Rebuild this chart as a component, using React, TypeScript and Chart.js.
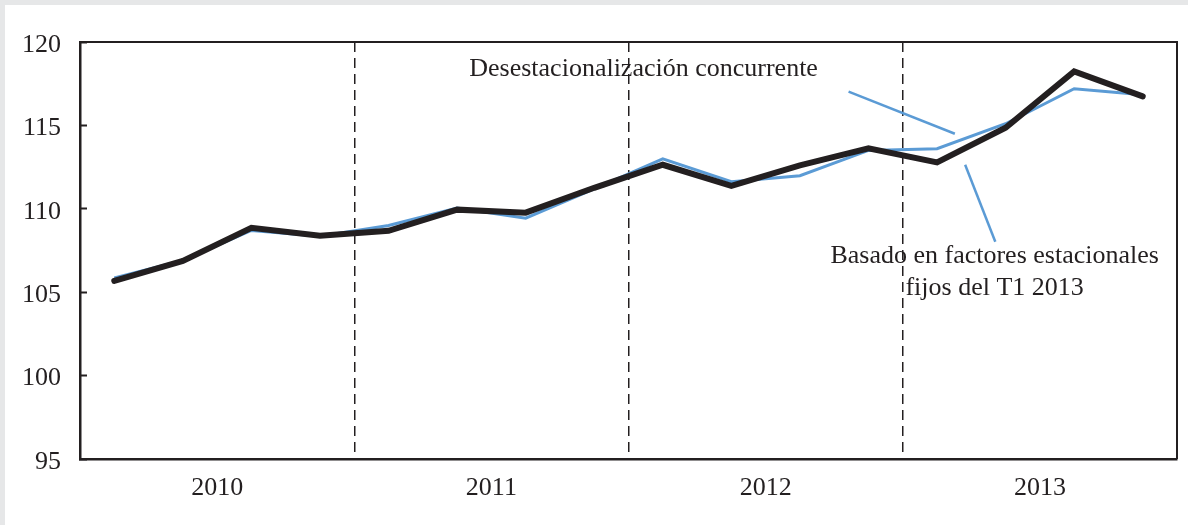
import React, { useEffect, useRef } from "react";
import { Chart, registerables } from "chart.js";

Chart.register(...registerables);

// ---- data ----
const quarters = [
  "T1 2010", "T2 2010", "T3 2010", "T4 2010",
  "T1 2011", "T2 2011", "T3 2011", "T4 2011",
  "T1 2012", "T2 2012", "T3 2012", "T4 2012",
  "T1 2013", "T2 2013", "T3 2013", "T4 2013",
];
const years = ["2010", "2011", "2012", "2013"];
const fixedFactors = [105.68, 106.88, 108.86, 108.38, 108.68, 109.95, 109.77, 111.26, 112.64, 111.38, 112.6, 113.63, 112.78, 114.86, 118.24, 116.74];
const concurrent = [105.85, 106.9, 108.7, 108.35, 109.0, 110.05, 109.44, 111.2, 113.0, 111.62, 111.98, 113.5, 113.6, 115.1, 117.2, 116.84];
const yTicks = [95, 100, 105, 110, 115, 120];

const concurrentLabel = "Desestacionalización concurrente";
const fixedLabel = ["Basado en factores estacionales", "fijos del T1 2013"];

// annotation placement, in data units (x: quarter index scale, y: value)
const annotationLines = [
  [[11.21, 117.02], [12.76, 114.5]],
  [[12.91, 112.64], [13.35, 108.02]],
];
const annotationTexts = [
  { text: [concurrentLabel], x: 8.22, y: [117.98] },
  { text: fixedLabel, x: 13.34, y: [106.76, 104.84] },
];

const INK = "#231f20";
const BLUE = "#5b9bd5";
const FONT = "'Liberation Serif', 'Times New Roman', serif";

export default function App() {
  const ref = useRef<HTMLCanvasElement>(null);

  useEffect(() => {
    const canvas = ref.current!;
    const bgPlugin = {
      id: "bg",
      beforeDraw(chart: any) {
        const { ctx, width, height } = chart;
        ctx.save();
        ctx.fillStyle = "#e6e7e8";
        ctx.fillRect(0, 0, width, height);
        ctx.fillStyle = "#ffffff";
        ctx.fillRect(5, 5, width - 5, height - 5);
        ctx.restore();
      },
    };
    const framePlugin = {
      id: "frame",
      afterDatasetsDraw(chart: any) {
        const { ctx, chartArea } = chart;
        const xs = chart.scales.x;
        const ys = chart.scales.y;
        ctx.save();
        ctx.strokeStyle = INK;
        ctx.lineWidth = 2;
        ctx.beginPath();
        ctx.moveTo(chartArea.left, chartArea.top);
        ctx.lineTo(chartArea.right, chartArea.top);
        ctx.lineTo(chartArea.right, chartArea.bottom);
        ctx.stroke();
        // annotation leader lines
        ctx.strokeStyle = BLUE;
        ctx.lineWidth = 2.5;
        for (const seg of annotationLines) {
          ctx.beginPath();
          ctx.moveTo(xs.getPixelForValue(seg[0][0]), ys.getPixelForValue(seg[0][1]));
          ctx.lineTo(xs.getPixelForValue(seg[1][0]), ys.getPixelForValue(seg[1][1]));
          ctx.stroke();
        }
        ctx.fillStyle = INK;
        ctx.font = `26px ${FONT}`;
        ctx.textAlign = "center";
        ctx.textBaseline = "alphabetic";
        for (const t of annotationTexts) {
          t.text.forEach((s, i) => {
            ctx.fillText(s, xs.getPixelForValue(t.x), ys.getPixelForValue(t.y[i]));
          });
        }
        ctx.restore();
      },
    };

    const chart = new Chart(canvas, {
      type: "line",
      data: {
        labels: quarters,
        datasets: [
          {
            label: fixedLabel.join(" "),
            data: fixedFactors.map((v, i) => ({ x: i + 0.5, y: v })),
            borderColor: INK,
            borderWidth: 6,
            borderJoinStyle: "miter",
            borderCapStyle: "round",
            pointRadius: 0,
            tension: 0,
          },
          {
            label: concurrentLabel,
            data: concurrent.map((v, i) => ({ x: i + 0.5, y: v })),
            borderColor: BLUE,
            borderWidth: 3,
            borderJoinStyle: "miter",
            pointRadius: 0,
            tension: 0,
          },
        ],
      },
      options: {
        animation: false,
        responsive: false,
        devicePixelRatio: 1,
        layout: { padding: { left: 0, top: 42, right: 11, bottom: 0 } },
        plugins: {
          legend: { display: false },
          tooltip: { enabled: false },
        },
        scales: {
          x: {
            type: "linear",
            min: 0,
            max: quarters.length,
            afterFit: (s: any) => {
              s.height = 66;
              s.paddingLeft = 0;
              s.paddingRight = 0;
            },
            afterBuildTicks: (s: any) => {
              const t = [];
              for (let v = 0; v <= quarters.length; v += 2) t.push({ value: v });
              s.ticks = t;
            },
            ticks: {
              autoSkip: false,
              maxRotation: 0,
              padding: 14,
              color: INK,
              font: { family: FONT, size: 26 },
              callback: (v: any) => {
                const n = Number(v);
                return n % 4 === 2 ? years[(n - 2) / 4] : "";
              },
            },
            grid: {
              drawTicks: false,
              lineWidth: 1.5,
              color: (c: any) => {
                const v = c.tick ? c.tick.value : -1;
                return v > 0 && v < quarters.length && v % 4 === 0 ? INK : "rgba(0,0,0,0)";
              },
            },
            border: { color: INK, width: 2.5, dash: [10, 6] },
          },
          y: {
            min: 95,
            max: 120,
            afterFit: (s: any) => {
              s.width = 80;
              s.paddingTop = 0;
              s.paddingBottom = 0;
            },
            afterBuildTicks: (s: any) => { s.ticks = yTicks.map((v) => ({ value: v })); },
            ticks: {
              padding: 26,
              labelOffset: 3,
              color: INK,
              font: { family: FONT, size: 26 },
            },
            grid: {
              drawOnChartArea: false,
              tickLength: -7,
              tickColor: INK,
              tickWidth: 2,
            },
            border: { color: INK, width: 2.5 },
          },
        },
      },
      plugins: [bgPlugin, framePlugin],
    });
    return () => chart.destroy();
  }, []);

  return (
    <div style={{ position: "fixed", left: 0, top: 0, width: 1188, height: 525 }}>
      <canvas ref={ref} width={1188} height={525} style={{ display: "block" }} />
    </div>
  );
}
